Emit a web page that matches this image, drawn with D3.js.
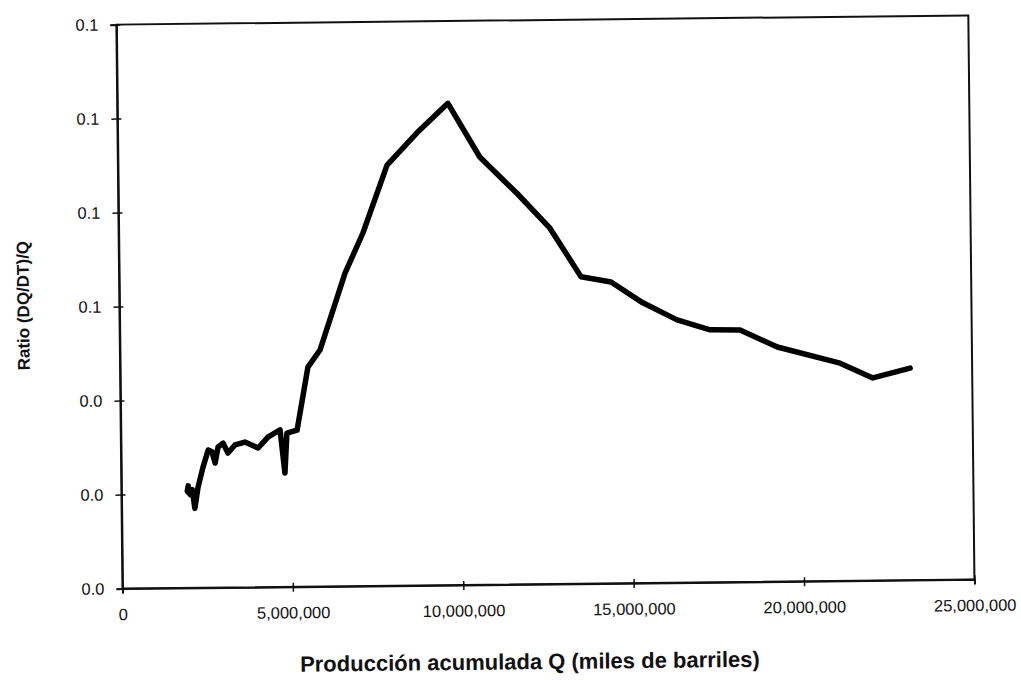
<!DOCTYPE html>
<html>
<head>
<meta charset="utf-8">
<script src="https://cdn.jsdelivr.net/npm/d3@7"></script>
<style>
  body { margin: 0; background: #fff; }
  text { font-family: "Liberation Sans", Arial, sans-serif; fill: #111; }
</style>
</head>
<body>
<div class="chart"></div>
<script>
// Cumulative production Q (thousand barrels) and ratio (dQ/dt)/Q
var qValues = [
  1961000, 1931000, 2031000, 2080000, 2150000, 2250000, 2400000, 2559000,
  2669000, 2759000, 2849000, 2998000, 3138000, 3347000, 3637000, 4026000,
  4315000, 4674000, 4804000, 4874000, 5173000, 5512000, 5871000, 6630000,
  7168000, 7897000, 8785000, 9702000, 10620000, 11698000, 12656000, 13553000,
  14431000, 15359000, 16357000, 17325000, 18202000, 19290000, 21126000,
  22083000, 23181000
];
var ratioValues = [
  0.0217, 0.0206, 0.0198, 0.0209, 0.0169, 0.0214, 0.0256, 0.0293,
  0.0289, 0.0265, 0.0299, 0.0307, 0.0286, 0.0303, 0.0309, 0.0296,
  0.0319, 0.0334, 0.0242, 0.0327, 0.0333, 0.0467, 0.0503, 0.0666,
  0.0751, 0.0895, 0.0963, 0.1025, 0.0910, 0.0832, 0.0757, 0.0653,
  0.0641, 0.0596, 0.0559, 0.0537, 0.0536, 0.0499, 0.0463,
  0.0431, 0.0451
];
var xTicks = [0, 5000000, 10000000, 15000000, 20000000, 25000000];
var yTicks = [0, 0.02, 0.04, 0.06, 0.08, 0.10, 0.12];

var width = 1021,
  height = 680,
  marginLeft = 119.4,
  marginTop = 20,
  plotW = 852,
  plotH = 564,
  tilt = -0.62; // the scanned page is slightly rotated

var svg = d3.select(".chart").append("svg")
  .attr("width", width)
  .attr("height", height);

var root = svg.append("g")
  .attr("transform", "rotate(" + tilt + "," + (marginLeft + plotW / 2) + "," + (marginTop + plotH / 2) + ")");

var g = root.append("g")
  .attr("transform", "translate(" + marginLeft + "," + marginTop + ")");

var x = d3.scaleLinear().domain([0, 25000000]).range([0, plotW]);
var y = d3.scaleLinear().domain([0, 0.12]).range([plotH, 0]);

// frame
g.append("rect")
  .attr("width", plotW)
  .attr("height", plotH)
  .attr("fill", "none")
  .attr("stroke", "#111")
  .attr("stroke-width", 2);

// axes
var xAxis = g.append("g")
  .attr("transform", "translate(0," + plotH + ")")
  .call(d3.axisBottom(x).tickValues(xTicks).tickFormat(d3.format(",")).tickSize(5).tickPadding(15));

var yAxis = g.append("g")
  .call(d3.axisLeft(y).tickValues(yTicks).tickFormat(d3.format(".1f")).tickSize(6).tickPadding(12));

[xAxis, yAxis].forEach(function(a) {
  a.select(".domain").attr("stroke", "#111").attr("stroke-width", 2);
  a.selectAll(".tick line").attr("stroke", "#111").attr("stroke-width", 1.5);
  a.selectAll(".tick text")
    .style("font-family", '"Liberation Sans", Arial, sans-serif')
    .style("font-size", "16.5px")
    .attr("fill", "#111");
});
// little inner part of the ticks
xAxis.selectAll(".tick").append("line").attr("y2", -4).attr("stroke", "#111").attr("stroke-width", 1.5);
yAxis.selectAll(".tick").append("line").attr("x2", 4).attr("stroke", "#111").attr("stroke-width", 1.5);

// the curve
var points = qValues.map(function(q, i) { return [q, ratioValues[i]]; });
var line = d3.line()
  .x(function(d) { return x(d[0]); })
  .y(function(d) { return y(d[1]); });

g.append("path")
  .datum(points)
  .attr("d", line)
  .attr("fill", "none")
  .attr("stroke", "#000")
  .attr("stroke-width", 5.5)
  .attr("stroke-linejoin", "round")
  .attr("stroke-linecap", "round");

// axis titles
root.append("text")
  .attr("x", 526)
  .attr("y", 669)
  .attr("text-anchor", "middle")
  .style("font-size", "22px")
  .style("font-weight", "bold")
  .text("Producción acumulada Q (miles de barriles)");

root.append("text")
  .attr("transform", "translate(29,300) rotate(-90)")
  .attr("text-anchor", "middle")
  .style("font-size", "17px")
  .style("font-weight", "bold")
  .text("Ratio (DQ/DT)/Q");
</script>
</body>
</html>
